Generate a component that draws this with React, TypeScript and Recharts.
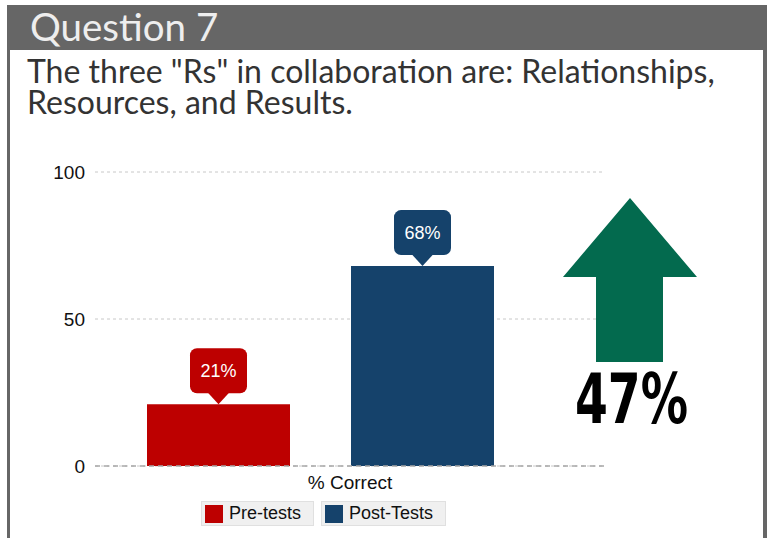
import React from "react";
import {
  BarChart,
  Bar,
  XAxis,
  YAxis,
  CartesianGrid,
  ReferenceLine,
  LabelList,
  Legend,
} from "recharts";

const categories = ["% Correct"];
const preTests = [21];
const postTests = [68];
const seriesNames = ["Pre-tests", "Post-Tests"];
const seriesColors = ["#bd0000", "#15426b"];
const yTicks = [0, 50, 100];
const changeLabel = "47%";

const data = categories.map((c, i) => ({
  category: c,
  pre: preTests[i],
  post: postTests[i],
}));

const chartFont = "'Liberation Sans', Arial, sans-serif";

function Callout(props: any) {
  const { x, y, width, value, fill } = props;
  const cx = x + width / 2;
  const bw = 57;
  const bh = 45;
  const top = y - 11 - bh;
  return (
    <g>
      <rect x={cx - bw / 2} y={top} width={bw} height={bh} rx={7} fill={fill} />
      <path d={`M${cx - 11},${y - 12} L${cx + 11},${y - 12} L${cx},${y} Z`} fill={fill} />
      <text
        x={cx}
        y={top + bh / 2 + 6}
        textAnchor="middle"
        fill="#fff"
        fontSize={18}
        fontFamily={chartFont}
      >
        {value}%
      </text>
    </g>
  );
}

function LegendBoxes(props: any) {
  const items = [...(props.payload || [])].sort(
    (a: any, b: any) => seriesNames.indexOf(a.value) - seriesNames.indexOf(b.value)
  );
  return (
    <div style={{ display: "flex", gap: 7, fontFamily: chartFont, fontSize: 18 }}>
      {items.map((it: any) => (
        <div
          key={it.value}
          style={{
            display: "flex",
            alignItems: "center",
            background: "#f0f0f0",
            border: "1px solid #e0e0e0",
            height: 23,
            padding: "0 12px 0 3px",
            color: "#111",
          }}
        >
          <span
            style={{
              width: 18,
              height: 18,
              background: it.color,
              marginRight: 6,
              display: "inline-block",
            }}
          />
          {it.value}
        </div>
      ))}
    </div>
  );
}

export default function App() {
  return (
    <div style={{ position: "absolute", left: 0, top: 0, width: 775, height: 538, overflow: "hidden", background: "#fff" }}>
      <div style={{ position: "absolute", left: 7, top: 5, width: 760, height: 540, background: "#666" }} />
      <div style={{ position: "absolute", left: 10, top: 50, width: 753, height: 500, background: "#fff" }} />
      <div
        style={{
          position: "absolute",
          left: 30,
          top: 4,
          fontFamily: "Lato, sans-serif",
          fontSize: 38.5,
          lineHeight: "44px",
          color: "#eeeeee",
        }}
      >
        Question 7
      </div>
      <div
        style={{
          position: "absolute",
          left: 27,
          top: 55,
          width: 740,
          fontFamily: "Lato, sans-serif",
          fontSize: 32,
          lineHeight: "31px",
          color: "#333",
        }}
      >
        The three "Rs" in collaboration are: Relationships, Resources, and Results.
      </div>
      <div style={{ position: "absolute", left: 0, top: 0 }}>
        <BarChart
          width={775}
          height={538}
          data={data}
          margin={{ top: 172, right: 170, left: 35, bottom: 42 }}
          barGap={61}
        >
          <CartesianGrid vertical={false} stroke="#c8c8c8" strokeDasharray="3 3" />
          <XAxis
            dataKey="category"
            tick={false}
            axisLine={false}
            tickLine={false}
            height={30}
            padding={{ left: 0, right: 60 }}
            label={{
              value: categories[0],
              position: "insideTop",
              offset: 10,
              fill: "#111",
              fontSize: 19,
              fontFamily: chartFont,
            }}
          />
          <YAxis
            width={60}
            domain={[0, 100]}
            ticks={yTicks}
            axisLine={false}
            tickLine={false}
            tickSize={0}
            tickMargin={10}
            tick={{ fill: "#111", fontSize: 19, fontFamily: chartFont }}
          />
          <ReferenceLine y={0} stroke="#a8a8a8" strokeWidth={1.5} strokeDasharray="5 4" />
          <Bar dataKey="pre" name={seriesNames[0]} fill={seriesColors[0]} barSize={143} isAnimationActive={false}>
            <LabelList dataKey="pre" content={(p: any) => <Callout {...p} fill={seriesColors[0]} />} />
          </Bar>
          <Bar dataKey="post" name={seriesNames[1]} fill={seriesColors[1]} barSize={143} isAnimationActive={false}>
            <LabelList dataKey="post" content={(p: any) => <Callout {...p} fill={seriesColors[1]} />} />
          </Bar>
          <Legend
            layout="vertical"
            align="center"
            verticalAlign="middle"
            content={<LegendBoxes />}
            wrapperStyle={{ position: "absolute", left: 201, top: 501, width: "auto" }}
          />
        </BarChart>
      </div>
      <svg width={775} height={538} style={{ position: "absolute", left: 0, top: 0, pointerEvents: "none" }}>
        <path d="M630,198 L697,277 L663,277 L663,362 L596,362 L596,277 L563,277 Z" fill="#036a4e" />
        <text
          x={575}
          y={423}
          fontSize={70}
          fontWeight="bold"
          fontFamily="'Liberation Sans Narrow', 'DejaVu Sans Condensed', sans-serif"
          textLength={113}
          lengthAdjust="spacingAndGlyphs"
          fill="#000"
        >
          {changeLabel}
        </text>
      </svg>
    </div>
  );
}
